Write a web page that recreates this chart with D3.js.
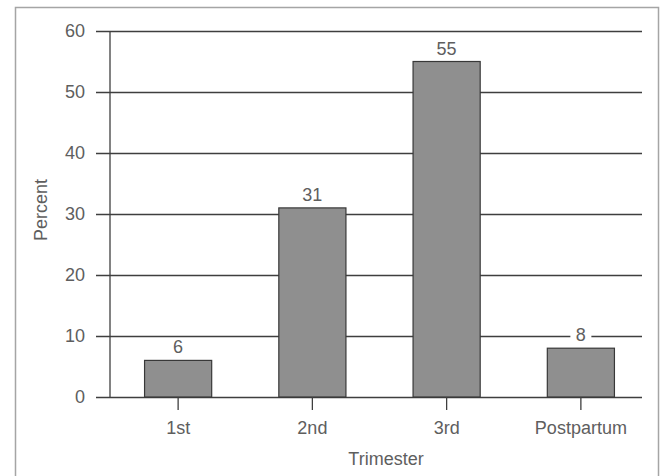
<!DOCTYPE html>
<html>
<head>
<meta charset="utf-8">
<script src="https://cdn.jsdelivr.net/npm/d3@7"></script>
<style>
body { margin: 0; background: #fff; }
text { font-family: "Liberation Sans", Arial, sans-serif; fill: #5e5e5e; }
</style>
</head>
<body>
<div id="chart"></div>
<script>
// data
var categories = ["1st", "2nd", "3rd", "Postpartum"];
var percents = [6, 31, 55, 8];
var yTicks = [0, 10, 20, 30, 40, 50, 60];

var w = 662, h = 476;
var fs = 18;
var svg = d3.select("#chart").append("svg")
    .attr("width", w)
    .attr("height", h);

// outer frame
svg.append("rect")
    .attr("x", 15.5).attr("y", 7.5)
    .attr("width", 643).attr("height", 475)
    .attr("fill", "none")
    .attr("stroke", "#a5a5a5")
    .attr("stroke-width", 1.5);

var axisX = 110, gridLeft = 96, gridRight = 642;

var y = d3.scaleLinear()
    .domain([0, 60])
    .range([397, 31]);

var x = d3.scaleBand()
    .domain(categories)
    .range([111, 648])
    .paddingInner(0.5)
    .paddingOuter(0.25);

// gridlines + y tick labels
var yg = svg.append("g")
    .attr("transform", "translate(" + gridLeft + ",0)")
    .call(d3.axisLeft(y).tickValues(yTicks).tickSize(-(gridRight - gridLeft)).tickPadding(11));
yg.select(".domain").remove();
yg.selectAll(".tick line").attr("stroke", "#3f3f3f").attr("stroke-width", 1.3);
yg.selectAll(".tick text").attr("font-size", fs).attr("fill", "#5e5e5e")
    .style("font-family", "Liberation Sans, Arial, sans-serif");

// vertical y axis line
svg.append("line")
    .attr("x1", axisX).attr("x2", axisX)
    .attr("y1", y(60)).attr("y2", y(0))
    .attr("stroke", "#3f3f3f").attr("stroke-width", 1.3);

// bars
svg.append("g").selectAll("rect")
    .data(percents)
    .enter().append("rect")
    .attr("x", function(d, i) { return x(categories[i]); })
    .attr("y", function(d) { return y(d); })
    .attr("width", x.bandwidth())
    .attr("height", function(d) { return y(0) - y(d); })
    .attr("fill", "#8f8f8f")
    .attr("stroke", "#383838")
    .attr("stroke-width", 1.2);

// value labels, with a white patch that breaks the gridline behind them
var labels = svg.append("g").selectAll("g")
    .data(percents)
    .enter().append("g");
labels.append("rect")
    .attr("x", function(d, i) { return x(categories[i]) + x.bandwidth() / 2 - 10.5 - (String(d).length - 1) * 5; })
    .attr("y", function(d) { return y(d) - 22; })
    .attr("width", function(d) { return 21 + (String(d).length - 1) * 10; })
    .attr("height", 16)
    .attr("fill", "#fff");
labels.append("text")
    .attr("x", function(d, i) { return x(categories[i]) + x.bandwidth() / 2; })
    .attr("y", function(d) { return y(d) - 7; })
    .attr("text-anchor", "middle")
    .attr("font-size", fs)
    .text(function(d) { return d; });

// x axis ticks + category labels
var xg = svg.append("g")
    .attr("transform", "translate(0," + y(0) + ")")
    .call(d3.axisBottom(x).tickSize(13).tickPadding(11));
xg.select(".domain").remove();
xg.selectAll(".tick line").attr("stroke", "#3f3f3f").attr("stroke-width", 1.3);
xg.selectAll(".tick text").attr("font-size", fs).attr("fill", "#5e5e5e")
    .style("font-family", "Liberation Sans, Arial, sans-serif");

// axis titles
svg.append("text")
    .attr("x", 386).attr("y", 465)
    .attr("text-anchor", "middle")
    .attr("font-size", fs)
    .text("Trimester");

svg.append("text")
    .attr("transform", "translate(47,210) rotate(-90)")
    .attr("text-anchor", "middle")
    .attr("font-size", fs)
    .text("Percent");
</script>
</body>
</html>
